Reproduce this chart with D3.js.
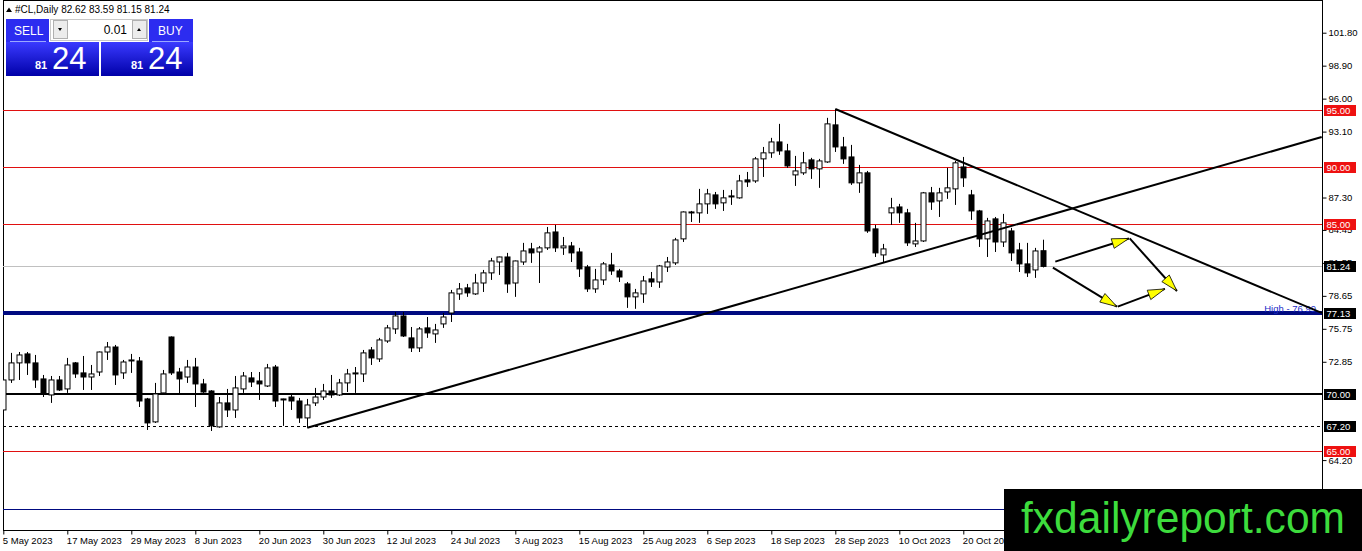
<!DOCTYPE html>
<html>
<head>
<meta charset="utf-8">
<script src="https://cdn.jsdelivr.net/npm/d3@7"></script>
<style>
  html, body { margin: 0; padding: 0; background: #fff; }
  svg { display: block; font-family: "Liberation Sans", Arial, sans-serif; }
</style>
</head>
<body>
<svg id="chart" width="1362" height="551"></svg>
<script>
// #CL Daily candles, 5 May 2023 .. 3 Nov 2023
var opens = [68.61,71.25,72.75,73.54,72.75,71.34,69.93,71.25,70.46,72.75,71.87,71.51,71.95,73.71,74.15,71.87,72.92,72.92,69.58,67.56,
  70.11,75.03,71.95,71.51,72.39,70.90,70.28,67.12,69.23,68.61,70.46,71.43,71.16,70.72,72.39,69.58,69.75,69.40,67.91,69.23,
  69.75,70.28,69.93,70.99,71.78,71.78,73.89,73.10,74.68,75.74,76.88,74.95,74.07,75.83,75.30,76.18,77.14,78.82,79.35,78.82,
  79.78,80.67,81.63,82.07,79.78,81.63,82.78,82.51,82.87,84.27,82.87,83.04,82.51,81.19,79.26,80.05,81.37,80.84,79.70,78.56,
  78.82,80.14,79.87,81.19,81.55,83.66,86.03,85.95,86.74,87.53,86.83,87.44,87.27,88.85,88.76,90.70,91.23,92.19,91.40,89.29,
  89.47,90.61,89.82,90.43,93.69,91.75,90.87,88.59,89.47,84.54,82.25,85.95,86.47,85.95,83.22,83.48,87.71,87.00,87.79,88.06,
  89.99,87.53,86.12,83.66,85.42,83.39,84.36,82.69,81.46,80.93,82.62];
var highs = [71.69,73.63,73.71,73.71,73.45,71.69,71.60,71.60,73.19,72.83,73.36,72.57,73.75,74.59,74.33,73.01,73.54,73.27,69.67,70.99,
  72.13,75.08,72.31,73.01,73.19,71.34,70.35,69.75,70.46,71.60,71.95,71.95,71.95,72.66,72.57,69.60,70.02,69.67,69.58,70.55,
  70.90,71.69,71.34,72.22,72.39,73.89,74.15,74.95,76.09,77.23,77.23,75.91,75.91,76.79,76.18,77.14,79.17,79.78,79.70,80.58,
  80.93,81.99,82.10,82.43,81.75,83.31,83.31,83.04,84.71,84.89,83.83,83.39,82.87,81.37,81.02,81.63,82.43,81.02,79.87,79.26,
  80.40,80.75,81.37,82.07,83.75,86.08,86.12,88.06,88.06,87.79,87.97,87.97,89.29,89.55,90.87,91.75,92.55,93.78,92.02,90.96,
  91.31,90.79,90.70,94.31,95.09,92.63,91.93,90.17,89.64,84.89,83.22,87.27,86.74,86.30,85.07,87.79,88.23,88.15,89.91,90.52,
  90.87,87.97,86.21,85.51,85.59,85.86,84.63,83.31,83.31,82.87,83.59];
var lows = [68.35,70.99,71.25,71.69,70.55,69.75,69.23,70.28,70.11,71.43,70.37,70.37,71.60,73.01,70.81,71.34,71.87,68.87,66.85,67.47,
  70.02,71.69,70.02,70.99,68.87,70.11,66.76,67.05,67.99,67.91,70.11,70.63,69.49,70.63,68.87,67.21,68.61,67.47,67.05,68.96,
  69.49,69.67,69.84,70.19,70.11,71.07,72.57,72.83,74.51,75.30,75.03,73.71,73.71,74.95,74.51,75.83,76.35,78.29,78.56,78.73,
  78.99,80.05,80.49,78.91,78.56,81.37,81.55,79.78,82.69,82.51,82.25,81.63,80.31,78.99,78.91,79.61,80.49,79.87,77.59,77.51,
  78.03,79.43,79.35,80.75,81.37,83.39,85.15,85.07,85.86,86.30,86.12,86.65,87.20,88.23,88.59,89.11,90.79,91.05,89.91,88.32,
  89.29,88.94,88.15,90.35,91.31,90.26,88.41,87.71,84.19,82.07,81.55,84.89,85.07,83.04,82.95,83.39,86.21,85.59,87.18,86.65,
  88.23,85.33,82.95,82.07,82.51,82.95,81.72,80.75,80.31,80.23,81.15];
var closes = [71.25,72.75,73.45,72.75,71.25,70.02,71.25,70.37,72.57,71.78,71.51,71.78,73.71,74.15,71.69,72.83,73.01,69.40,67.47,70.02,
  71.78,71.87,71.34,72.39,70.90,70.19,67.21,69.23,68.61,70.55,71.60,71.07,70.90,72.31,69.40,69.49,69.40,67.91,69.05,69.75,
  70.28,69.93,70.99,71.78,71.87,73.63,73.19,74.77,75.83,76.88,75.12,74.07,75.74,75.39,75.65,76.79,78.91,79.26,78.91,79.78,
  80.67,81.72,82.07,79.70,81.72,82.60,82.43,82.87,84.19,82.87,83.04,82.43,81.02,79.26,80.05,81.46,80.84,80.31,78.56,78.91,
  79.96,79.87,81.28,81.63,83.57,86.03,85.95,86.74,87.62,86.74,87.27,87.35,88.76,88.67,90.70,91.23,92.19,91.40,90.08,89.64,
  90.35,89.82,90.52,93.78,91.75,90.70,88.59,89.47,84.36,82.43,82.78,86.39,85.95,83.31,83.48,87.71,86.91,87.71,88.15,90.35,
  89.03,86.12,83.66,85.24,83.39,85.07,82.43,81.46,80.67,82.60,81.24];

// time axis labels (bar index -> label)
var dateTickBars = [0, 8, 16, 24, 32, 40, 48, 56, 64, 72, 80, 88, 96, 104, 112, 120];
var dateTickLabels = ["5 May 2023","17 May 2023","29 May 2023","8 Jun 2023","20 Jun 2023","30 Jun 2023","12 Jul 2023",
  "24 Jul 2023","3 Aug 2023","15 Aug 2023","25 Aug 2023","6 Sep 2023","18 Sep 2023","28 Sep 2023","10 Oct 2023","20 Oct 2023"];

// price axis labels (the ones not hidden behind level boxes)
var priceTicks = [101.80, 98.90, 96.00, 93.10, 87.30, 84.45, 81.55, 78.65, 75.75, 72.85, 64.20];

// horizontal levels drawn on the chart
var redLevels = [95.00, 90.00, 85.00, 65.00];
var blackLevels = [77.13, 70.00, 67.20];
var lastPrice = 81.24;
var highLevel = 77.13;
var lowNavyLevel = 59.90;

// trend lines [bar, price] -> [bar, price]
var trendStarts = [[38, 67.05], [104, 95.09]];
var trendEnds   = [[164.8, 92.62], [164.8, 77.15]];

// forecast arrows [bar, price] -> [bar, price]
var arrowStarts = [[131.5, 81.66], [140.8, 83.70], [131.2, 81.13], [139.3, 77.70]];
var arrowEnds   = [[140.7, 83.70], [146.7, 79.08], [139.2, 77.70], [145.2, 79.26]];

var $svg = d3.select("#chart");
var plotLeft = 3, plotRight = 1322, plotTop = 1, plotBottom = 530;

var x = d3.scaleLinear().domain([0, 165]).range([3.3, 1323.3]);
var y = d3.scaleLinear().domain([65, 95]).range([451, 110]);

var red = "#e01010";
var navy = "#000a80";

$svg.append("defs").append("clipPath").attr("id", "plot-clip")
  .append("rect").attr("x", plotLeft).attr("y", plotTop)
  .attr("width", plotRight - plotLeft).attr("height", plotBottom - plotTop);

// frame
$svg.append("rect")
  .attr("x", plotLeft + 0.5).attr("y", plotTop - 0.5)
  .attr("width", plotRight - plotLeft).attr("height", plotBottom - plotTop + 1)
  .attr("fill", "none").attr("stroke", "#000");

var $plot = $svg.append("g").attr("clip-path", "url(#plot-clip)");

// level lines
function hline(price, color, width, dash) {
  var yy = Math.round(y(price)) + (width % 2 ? 0.5 : 0);
  $plot.append("line")
    .attr("x1", plotLeft).attr("x2", plotRight)
    .attr("y1", yy).attr("y2", yy)
    .attr("stroke", color).attr("stroke-width", width)
    .attr("stroke-dasharray", dash || null);
}
redLevels.forEach(function(p){ hline(p, red, 1); });
hline(lastPrice, "#c0c0c0", 1);
hline(highLevel, navy, 4);
hline(70.00, "#000", 2);
hline(67.20, "#000", 1, "3,3");
hline(lowNavyLevel, navy, 1);

$plot.append("text")
  .attr("x", 1316).attr("y", y(highLevel) - 1.5)
  .attr("text-anchor", "end")
  .attr("font-size", 9.5).attr("fill", "#1c2cc8")
  .text("High - 76.99");

// candles
var bars = d3.range(opens.length).map(function(i){
  return {i: i, o: opens[i], h: highs[i], l: lows[i], c: closes[i]};
});
var $candles = $plot.append("g").selectAll("g").data(bars).join("g")
  .attr("transform", function(d){ return "translate(" + (Math.round(x(d.i)) + 0.5) + ",0)"; });
$candles.append("line")
  .attr("y1", function(d){ return y(d.h); })
  .attr("y2", function(d){ return y(d.l); })
  .attr("stroke", "#000").attr("stroke-width", 1);
$candles.append("rect")
  .attr("x", -2.5)
  .attr("width", 5)
  .attr("y", function(d){ return Math.min(y(d.o), y(d.c)); })
  .attr("height", function(d){ return Math.max(1, Math.abs(y(d.o) - y(d.c))); })
  .attr("fill", function(d){ return d.c >= d.o ? "#fff" : "#000"; })
  .attr("stroke", "#000").attr("stroke-width", 1);

// trend lines
trendStarts.forEach(function(s, k){
  var e = trendEnds[k];
  $plot.append("line")
    .attr("x1", x(s[0])).attr("y1", y(s[1]))
    .attr("x2", x(e[0])).attr("y2", y(e[1]))
    .attr("stroke", "#000").attr("stroke-width", 2);
});

// arrows
arrowStarts.forEach(function(s, k){
  var e = arrowEnds[k];
  var x1 = x(s[0]), y1 = y(s[1]), x2 = x(e[0]), y2 = y(e[1]);
  $plot.append("line")
    .attr("x1", x1).attr("y1", y1).attr("x2", x2).attr("y2", y2)
    .attr("stroke", "#000").attr("stroke-width", 2);
  var ang = Math.atan2(y2 - y1, x2 - x1);
  var len = 17, half = 5;
  var bx = x2 - len * Math.cos(ang), by = y2 - len * Math.sin(ang);
  var pts = [[x2, y2],
    [bx + half * Math.sin(ang), by - half * Math.cos(ang)],
    [bx - half * Math.sin(ang), by + half * Math.cos(ang)]];
  $plot.append("polygon")
    .attr("points", pts.map(function(p){ return p.join(","); }).join(" "))
    .attr("fill", "#ffff00").attr("stroke", "#000").attr("stroke-width", 0.8);
});

// price axis (right)
var $yAxis = $svg.append("g")
  .attr("transform", "translate(" + (plotRight + 0.5) + ",0)")
  .call(d3.axisRight(y).tickValues(priceTicks).tickFormat(d3.format(".2f")).tickSize(4).tickPadding(2));
$yAxis.select(".domain").remove();
$yAxis.selectAll("text").attr("font-size", 9.5).attr("font-family", "Liberation Sans, Arial, sans-serif").attr("fill", "#000");
$yAxis.selectAll("line").attr("stroke", "#000");

// price labels on the axis
function priceBox(price, bg) {
  var yy = y(price);
  $svg.append("rect")
    .attr("x", plotRight + 2).attr("y", Math.round(yy) - 5)
    .attr("width", 32).attr("height", 11)
    .attr("fill", bg);
  $svg.append("text")
    .attr("x", plotRight + 4.5).attr("y", Math.round(yy) + 4)
    .attr("font-size", 9.5).attr("fill", "#fff")
    .text(d3.format(".2f")(price));
}
redLevels.forEach(function(p){ priceBox(p, "#ee1111"); });
priceBox(lastPrice, "#000");
blackLevels.forEach(function(p){ priceBox(p, "#000"); });

// time axis (bottom)
var $xAxis = $svg.append("g")
  .attr("transform", "translate(0," + (plotBottom + 0.5) + ")")
  .call(d3.axisBottom(x).tickValues(dateTickBars)
    .tickFormat(function(d, i){ return dateTickLabels[i]; }).tickSize(4).tickPadding(3));
$xAxis.select(".domain").remove();
$xAxis.selectAll("line").attr("stroke", "#000");
$xAxis.selectAll("text")
  .attr("text-anchor", "start").attr("dx", "-0.1em")
  .attr("font-size", 9.5).attr("font-family", "Liberation Sans, Arial, sans-serif").attr("fill", "#000");

// header
$svg.append("path").attr("d", "M6,12 L9,7.5 L12,12 Z").attr("fill", "#000");
$svg.append("text").attr("x", 15).attr("y", 13).attr("font-size", 10).attr("fill", "#000")
  .text("#CL,Daily  82.62 83.59 81.15 81.24");

// one-click trading panel
var grad = $svg.select("defs").append("linearGradient").attr("id", "blue-grad")
  .attr("x1", 0).attr("y1", 0).attr("x2", 0).attr("y2", 1);
grad.append("stop").attr("offset", "0%").attr("stop-color", "#3a3aff");
grad.append("stop").attr("offset", "100%").attr("stop-color", "#0000a8");

var $panel = $svg.append("g");
$panel.append("rect").attr("x", 6).attr("y", 19).attr("width", 43).attr("height", 23).attr("fill", "#2c2cf0");
$panel.append("rect").attr("x", 149).attr("y", 19).attr("width", 44).attr("height", 23).attr("fill", "#2c2cf0");
$panel.append("rect").attr("x", 6).attr("y", 42).attr("width", 93).attr("height", 34).attr("fill", "url(#blue-grad)");
$panel.append("rect").attr("x", 101).attr("y", 42).attr("width", 92).attr("height", 34).attr("fill", "url(#blue-grad)");
$panel.append("line").attr("x1", 10).attr("x2", 46).attr("y1", 41.5).attr("y2", 41.5).attr("stroke", "#9aa8ff");
$panel.append("line").attr("x1", 152).attr("x2", 189).attr("y1", 41.5).attr("y2", 41.5).attr("stroke", "#9aa8ff");
$panel.append("rect").attr("x", 50.5).attr("y", 19.5).attr("width", 97).attr("height", 21)
  .attr("fill", "#fff").attr("stroke", "#c8c8c8");
$panel.append("rect").attr("x", 53.5).attr("y", 20.5).attr("width", 14).attr("height", 18)
  .attr("fill", "#ececec").attr("stroke", "#b0b0b0");
$panel.append("rect").attr("x", 132.5).attr("y", 20.5).attr("width", 14).attr("height", 18)
  .attr("fill", "#ececec").attr("stroke", "#b0b0b0");
$panel.append("path").attr("d", "M58,28 L62,28 L60,31 Z").attr("fill", "#000");
$panel.append("path").attr("d", "M137,31 L141,31 L139,28 Z").attr("fill", "#000");
$panel.append("text").attr("x", 127).attr("y", 34).attr("text-anchor", "end")
  .attr("font-size", 12).attr("fill", "#000").text("0.01");
$panel.append("text").attr("x", 14).attr("y", 35).attr("font-size", 12).attr("fill", "#fff").text("SELL");
$panel.append("text").attr("x", 158).attr("y", 35).attr("font-size", 12).attr("fill", "#fff").text("BUY");
[[35, 52], [131, 148]].forEach(function(p){
  $panel.append("text").attr("x", p[0]).attr("y", 69).attr("font-size", 11).attr("font-weight", "bold")
    .attr("fill", "#fff").text("81");
  $panel.append("text").attr("x", p[1]).attr("y", 69).attr("font-size", 31)
    .attr("fill", "#fff").text("24");
});

// watermark box
$svg.append("rect").attr("x", 1004).attr("y", 489).attr("width", 358).attr("height", 62).attr("fill", "#000");
$svg.append("text").attr("x", 1021).attr("y", 533)
  .attr("font-size", 44).attr("fill", "#3ddc3d")
  .attr("textLength", 324).attr("lengthAdjust", "spacingAndGlyphs")
  .text("fxdailyreport.com");
</script>
</body>
</html>
